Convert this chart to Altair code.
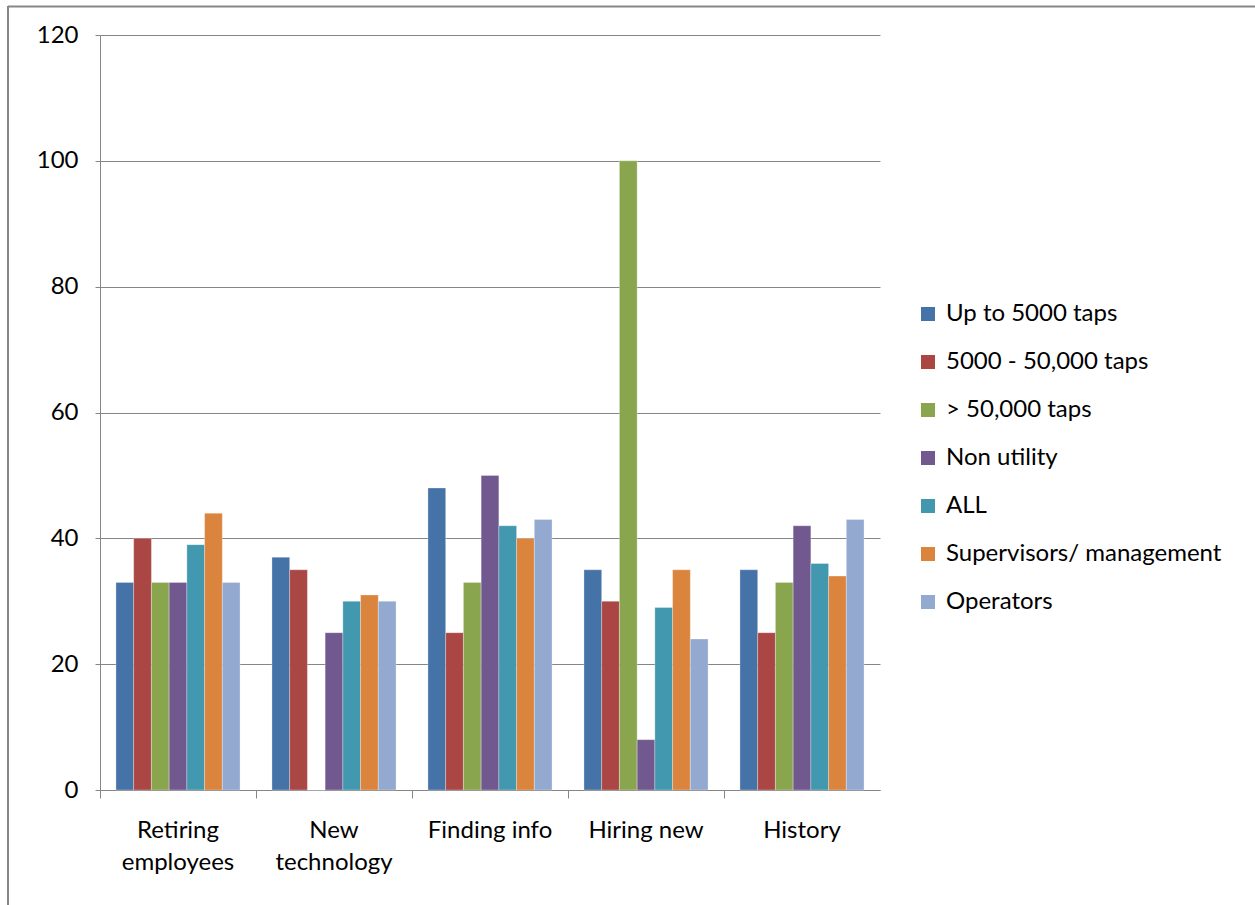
import altair as alt
import pandas as pd

categories = ["Retiring employees", "New technology", "Finding info", "Hiring new", "History"]
series = ["Up to 5000 taps", "5000 - 50,000 taps", "> 50,000 taps", "Non utility",
          "ALL", "Supervisors/ management", "Operators"]
colors = ["#4572A7", "#AA4643", "#89A54E", "#71588F", "#4198AF", "#DB843D", "#93A9CF"]

up_to_5000 = [33, 37, 48, 35, 35]
taps_5000_50000 = [40, 35, 25, 30, 25]
over_50000 = [33, 0, 33, 100, 33]
non_utility = [33, 25, 50, 8, 42]
all_resp = [39, 30, 42, 29, 36]
supervisors = [44, 31, 40, 35, 34]
operators = [33, 30, 43, 24, 43]

values = [up_to_5000, taps_5000_50000, over_50000, non_utility, all_resp, supervisors, operators]
rows = []
for s, vals in zip(series, values):
    for c, v in zip(categories, vals):
        rows.append({"category": c, "series": s, "value": v})
df = pd.DataFrame(rows)

FONT = "Lato"
GRAY = "#868686"
FS = 24

bars = alt.Chart(df).mark_bar(stroke="white", strokeWidth=0.5, strokeOpacity=0.6).encode(
    x=alt.X("category:N", sort=categories, title=None,
            scale=alt.Scale(paddingInner=0, paddingOuter=0),
            axis=alt.Axis(labelAngle=0, bandPosition=0, tickSize=8, tickColor=GRAY,
                          domainColor=GRAY, labelFontSize=FS, labelFont=FONT,
                          labelColor="#000000", labelPadding=20, labelLineHeight=32,
                          labelBaseline="top",
                          labelExpr="(datum.label == 'Finding info' || datum.label == 'Hiring new') ? datum.label : split(datum.label, ' ')")),
    xOffset=alt.XOffset("series:N", sort=series,
                        scale=alt.Scale(paddingInner=0, paddingOuter=0.9)),
    y=alt.Y("value:Q", title=None,
            scale=alt.Scale(domain=[0, 120], nice=False),
            axis=alt.Axis(values=[0, 20, 40, 60, 80, 100, 120], tickSize=5, tickColor=GRAY,
                          domainColor=GRAY, gridColor=GRAY, grid=True,
                          labelFontSize=FS, labelFont=FONT, labelColor="#000000",
                          labelPadding=17)),
    color=alt.Color("series:N", sort=series,
                    scale=alt.Scale(domain=series, range=colors),
                    legend=alt.Legend(title=None, orient="none", legendX=816, legendY=267,
                                      symbolType="square", symbolSize=196,
                                      symbolStrokeWidth=0, labelFontSize=FS,
                                      labelFont=FONT, labelColor="#000000",
                                      rowPadding=24, labelOffset=6, labelLimit=400)),
)

one = pd.DataFrame({"a": [0]})
left_line = alt.Chart(one).mark_rule(color=GRAY, strokeWidth=2, clip=False).encode(
    x=alt.value(8 - 100), y=alt.value(6 - 35), y2=alt.value(905 - 35),
)
top_line = alt.Chart(one).mark_rule(color=GRAY, strokeWidth=2, clip=False).encode(
    x=alt.value(8 - 100), x2=alt.value(1255 - 100), y=alt.value(6.5 - 35),
)

chart = alt.layer(bars, left_line, top_line).properties(
    width=780, height=755,
    autosize=alt.AutoSizeParams(type="none"),
    padding={"left": 100, "top": 35, "right": 375, "bottom": 115},
    background="white",
).configure_view(stroke=None)

chart.save("out.html", embed_options={"renderer": "svg", "actions": False})
